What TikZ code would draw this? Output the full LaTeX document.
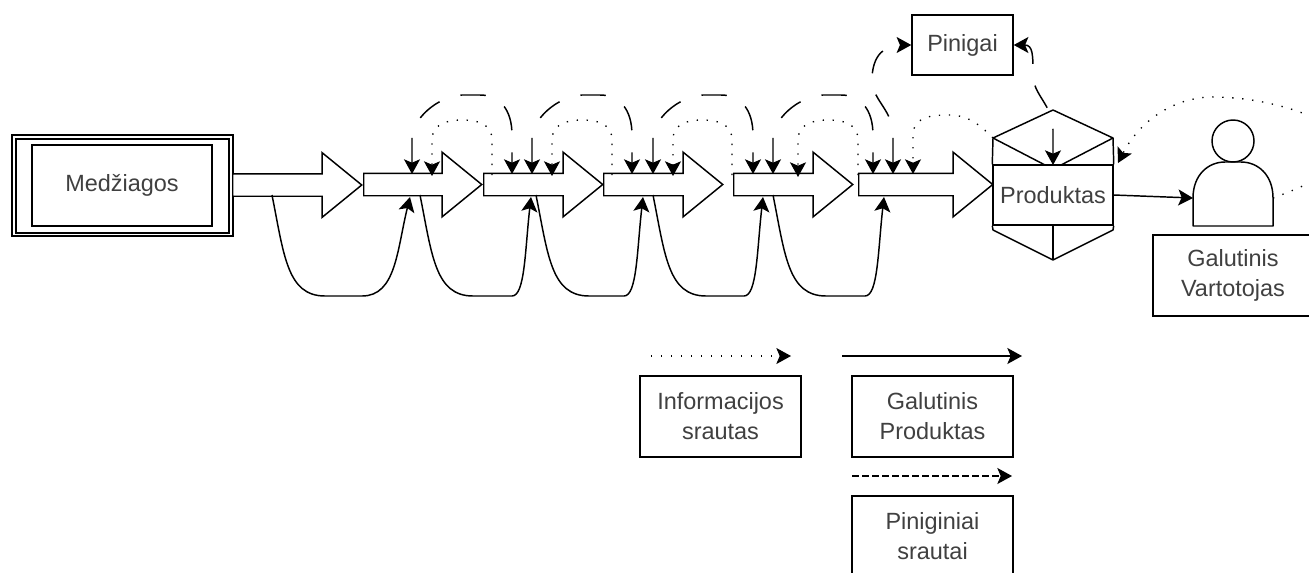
\documentclass[tikz,border=0pt]{standalone}
\usepackage{fontspec}
\setmainfont{Liberation Sans}
\usetikzlibrary{arrows.meta,shapes.arrows}
\tikzset{
  box/.style={draw,line width=1.1pt,align=center,inner sep=0pt,text=black!75,font=\fontsize{17.6pt}{22.5pt}\selectfont},
  flow/.style={draw,fill=white,line width=1.1pt,single arrow,anchor=tail,inner xsep=0pt,inner ysep=7.875pt,minimum width=47.25pt,
    single arrow head extend=15.75pt,single arrow tip angle=78.4},
  tip/.style={-{Stealth[length=11pt,width=12pt,inset=2.5pt]}},
  twotips/.style={{Stealth[length=11pt,width=12pt,inset=2.5pt]}-{Stealth[length=11pt,width=12pt,inset=2.5pt]}},
  product/.style={line width=1.1pt,tip},
  money/.style={line width=1.1pt,twotips,dash pattern=on 19pt off 16.5pt},
  info/.style={line width=1pt,tip,dash pattern=on 1pt off 6.5pt},
}
\begin{document}
\begin{tikzpicture}[x=0.75pt,y=-0.75pt]
      \useasboundingbox (0,0) rectangle (1309,572);
      \clip (0,0) rectangle (1309,572);
      % boxes
      \draw
        (122.5,185.5) node[box,minimum width=165.75pt,minimum height=75.75pt] (outer){}
        (122.5,186) node[box,minimum width=159.75pt,minimum height=70.5pt] (middle){}
        (122,185.5) node[box,minimum width=135pt,minimum height=60.75pt] (medziagos){Medžiagos}
        (962.5,45) node[box,minimum width=75.75pt,minimum height=45pt] (pinigai){Pinigai}
        (1053,195) node[box,minimum width=90pt,minimum height=45pt] (produktas){Produktas}
        (1233,275.5) node[box,minimum width=120pt,minimum height=60.75pt] (vartotojas){Galutinis\\Vartotojas}
        (720.5,416.5) node[box,minimum width=120.75pt,minimum height=60.75pt] (informacija){Informacijos\\srautas}
        (932.5,416.5) node[box,minimum width=120.75pt,minimum height=60.75pt] (galutinis){Galutinis\\Produktas}
        (932.5,536.5) node[box,minimum width=120.75pt,minimum height=60.75pt] (piniginiai){Piniginiai\\srautai};
      % block arrows
      \draw
        (232,185) node[flow,minimum height=96.75pt] (a1){}
        (363,184.5) node[flow,minimum height=88.5pt] (a2){}
        (483,184.5) node[flow,minimum height=89.25pt] (a3){}
        (603,184.5) node[flow,minimum height=89.25pt] (a4){}
        (733,184.5) node[flow,minimum height=89.25pt] (a5){}
        (858,184.5) node[flow,minimum height=100.5pt] (a6){};
      % hexagon around the product
      \draw[line width=1.1pt]
        (993,138) coordinate (hl) (1053,110) coordinate (ht) (1113,138) coordinate (hr)
        (993,230) coordinate (gl) (1053,260) coordinate (gb) (1113,230) coordinate (gr)
        (1045,165) coordinate (il) (1061,165) coordinate (ir)
        (1053,128) coordinate (hm) (1053,165) coordinate (hn);
      \draw[line width=1.1pt,line join=round] (produktas.north west) -- (hl) -- (ht) -- (hr) -- (produktas.north east);
      \draw[line width=1.1pt,line join=round] (produktas.south west) -- (gl) -- (gb) -- (gr) -- (produktas.south east);
      \draw[line width=1.1pt] (hl) -- (il);
      \draw[line width=1.1pt] (hr) -- (ir);
      \draw[line width=1.1pt] (produktas.south) -- (gb);
      % person
      \draw (1233,141) node[draw,circle,line width=1.1pt,inner sep=0pt,minimum size=31.5pt] (galva){};
      \draw[line width=1.1pt,line join=round]
        (1193,226) coordinate (kuno) -- (1193,198) coordinate (kairys)
        .. controls (1193,175) and (1208,162) .. (1225,162) -- (1241,162)
        .. controls (1258,162) and (1273,175) .. (1273,198) coordinate (desinys)
        -- (1273,226) -- cycle;
      % end points on the block arrows
      \draw
        (272,195) coordinate (s1) (410,197) coordinate (t1)
        (420,195) coordinate (s2) (531,197) coordinate (t2)
        (536,195) coordinate (s3) (643,197) coordinate (t3)
        (653,195) coordinate (s4) (763,197) coordinate (t4)
        (773,195) coordinate (s5) (884,197) coordinate (t5)
        (412,174) coordinate (m1) (512,174) coordinate (n1)
        (532,174) coordinate (m2) (632,174) coordinate (n2)
        (653,174) coordinate (m3) (753,174) coordinate (n3)
        (773,174) coordinate (m4) (873,174) coordinate (n4)
        (893,174) coordinate (m5)
        (432,176) coordinate (d1) (492,175) coordinate (e1)
        (552,176) coordinate (d2) (612,175) coordinate (e2)
        (673,176) coordinate (d3) (732,175) coordinate (e3)
        (798,177) coordinate (d4) (858,175) coordinate (e4)
        (913,174) coordinate (d5)
        (1118,163) coordinate (d6)
        (651,356) coordinate (l1) (791,356) coordinate (l2)
        (842,356) coordinate (l3) (1022,356) coordinate (l4)
        (852,476) coordinate (l5) (1012,476) coordinate (l6);
      % product flow
      \begin{scope}[product]
        \draw (s1) .. controls (284,255) and (287,296) .. (325,296) -- (362,296) .. controls (396,296) and (397,250) .. (t1);
        \draw (s2) .. controls (432,255) and (435,296) .. (473,296) -- (512,296) .. controls (525,296) and (525,250) .. (t2);
        \draw (s3) .. controls (548,255) and (551,296) .. (589,296) -- (624,296) .. controls (637,296) and (637,250) .. (t3);
        \draw (s4) .. controls (665,255) and (668,296) .. (706,296) -- (744,296) .. controls (757,296) and (757,250) .. (t4);
        \draw (s5) .. controls (785,255) and (788,296) .. (826,296) -- (865,296) .. controls (878,296) and (878,250) .. (t5);
        \draw (produktas.east) -- (kairys);
        \draw (l3) -- (l4);
      \end{scope}
      % money flow
      \begin{scope}[money]
        \draw (m1) -- (412,135) .. controls (414,120) and (435,97) .. (462,95) -- (480,95) .. controls (500,95) and (512,110) .. (512,135) -- (n1);
        \draw (m2) -- (532,135) .. controls (534,120) and (555,97) .. (582,95) -- (600,95) .. controls (620,95) and (632,110) .. (632,135) -- (n2);
        \draw (m3) -- (653,135) .. controls (655,120) and (676,97) .. (703,95) -- (721,95) .. controls (741,95) and (753,110) .. (753,135) -- (n3);
        \draw (m4) -- (773,135) .. controls (775,120) and (796,97) .. (823,95) -- (841,95) .. controls (861,95) and (873,110) .. (873,135) -- (n4);
        \draw (m5) -- (893,135) .. controls (893,110) and (872,100) .. (872,80) .. controls (872,55) and (885,45) .. (pinigai.west);
        \draw (hn) -- (1053,130) .. controls (1053,105) and (1033,95) .. (1033,75) .. controls (1033,55) and (1033,45) .. (pinigai.east);
      \end{scope}
      % information flow
      \begin{scope}[info]
        \draw (e1) -- (492,140) .. controls (492,125) and (480,120) .. (462,120) .. controls (445,120) and (432,125) .. (432,140) -- (d1);
        \draw (e2) -- (612,140) .. controls (612,125) and (600,120) .. (582,120) .. controls (565,120) and (552,125) .. (552,140) -- (d2);
        \draw (e3) -- (732,140) .. controls (732,125) and (720,120) .. (702,120) .. controls (685,120) and (673,125) .. (673,140) -- (d3);
        \draw (e4) -- (858,140) .. controls (858,125) and (846,120) .. (828,120) .. controls (811,120) and (798,125) .. (798,140) -- (d4);
        \draw (hl) .. controls (975,120) and (965,115) .. (947,115) .. controls (925,115) and (913,120) .. (913,135) -- (d5);
        \draw (desinys) .. controls (1300,188) and (1345,170) .. (1345,150) .. controls (1345,120) and (1270,97) .. (1213,97) .. controls (1175,97) and (1140,120) .. (d6);
        \draw (l1) -- (l2);
      \end{scope}
      \draw[line width=1.1pt,tip,dash pattern=on 5pt off 2.5pt] (l5) -- (l6);
    \end{tikzpicture}
\end{document}
